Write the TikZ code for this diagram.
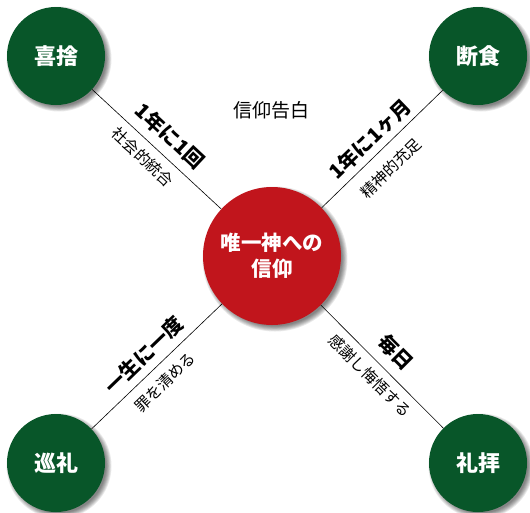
\documentclass[tikz,border=0pt]{standalone}
\usepackage{fontspec}
\setmainfont{Noto Sans CJK JP}
\definecolor{grn}{RGB}{8,86,41}
\definecolor{rd}{RGB}{193,21,28}
\newcommand\softshadow[3]{%
  \foreach \k in {0,...,6}{\fill[black, opacity=0.085] (#1+3,#2-3) circle[radius=#3+3.5-\k*0.9];}}
\begin{document}
\begin{tikzpicture}[x=1pt,y=1pt,
  corner/.style={circle, fill=grn, minimum size=98pt, inner sep=0pt, text=white,
    font=\fontsize{22}{26}\selectfont\bfseries},
  hub/.style={circle, fill=rd, minimum size=138pt, inner sep=0pt, text=white, align=center,
    font=\fontsize{20.5}{26}\selectfont\bfseries},
  link/.style={draw=black, line width=0.6pt},
  freq/.style={font=\fontsize{20}{22}\selectfont\bfseries, inner sep=0pt},
  gain/.style={font=\fontsize{15.5}{18}\selectfont, inner sep=0pt},
  head/.style={font=\fontsize{19}{22}\selectfont, inner sep=0pt}]
\useasboundingbox (0,0) rectangle (530,-512);
\fill[white] (0,0) rectangle (530,-512);
\softshadow{56}{-56}{49}
\softshadow{478}{-56}{49}
\softshadow{56}{-463}{49}
\softshadow{478}{-463}{49}
\softshadow{272}{-256}{69}
\node[corner] (tl) at (56,-56) {喜捨};
\node[corner] (tr) at (478,-56) {断食};
\node[corner] (bl) at (56,-463) {巡礼};
\node[corner] (br) at (478,-463) {礼拝};
\node[hub] (c) at (272,-256) {唯一神への\\信仰};
\draw[link] (c) -- (tl);
\draw[link] (c) -- (tr);
\draw[link] (c) -- (bl);
\draw[link] (c) -- (br);
\node[head] (title) at (271,-110) {信仰告白};
\node[freq, rotate=-43] (f1) at (170,-136) {1年に1回};
\node[gain, rotate=-43] (g1) at (143,-157) {社会的統合};
\node[freq, rotate=44] (f2) at (370,-139) {1年に1ヶ月};
\node[gain, rotate=44] (g2) at (391,-168) {精神的充足};
\node[freq, rotate=44] (f3) at (144,-355) {一生に一度};
\node[gain, rotate=44] (g3) at (165,-382) {罪を清める};
\node[freq, rotate=-45] (f4) at (396,-352) {毎日};
\node[gain, rotate=-45] (g4) at (370,-376) {感謝し悔悟する};
\end{tikzpicture}
\end{document}
